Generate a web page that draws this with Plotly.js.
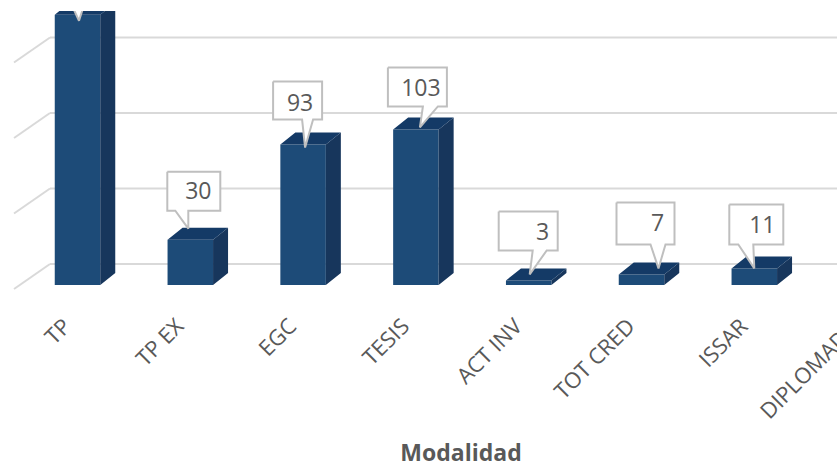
<!DOCTYPE html>
<html>
<head>
<meta charset="utf-8">
<script src="https://cdn.plot.ly/plotly-3.0.1.min.js"></script>
<style>html,body{margin:0;padding:0;width:837px;height:468px;overflow:hidden;background:#fff}</style>
</head>
<body>
<div id="chart" style="width:922px;height:468px"></div>
<script>
// data
const categories = ["TP","TP EX","EGC","TESIS","ACT INV","TOT CRED","ISSAR","DIPLOMADO"];
const values = [179,30,93,103,3,7,11,null];
const gridValues = [0,50,100,150];
const axisTitle = "Modalidad";

// scale constants (pixels per data unit)
const pxPerUnit = 1.51, pxPerCat = 112.8;
const barPx = 45.5, depthX = 15, depthY = 12;
const wallBackY = 21, wallX = 50, wallDX = 36, wallDY = 25;

// callout offsets relative to the top centre of each bar, in pixels
const calloutBox = [[-26,-46,30,-8],[-23,-68,30,-29],[-30,-63,19,-25],[-28,-62,31,-23],[-30,-69,29,-30],[-25,-72,33,-30],[-25,-64,29,-24]];
const calloutTail = [[-5,6],[-15,-2],[-1,10],[7,22],[4,18],[9,24],[-16,-1]];
const calloutTip = [[1.5,6],[-2,-11],[2,3],[4,-2],[1,-6],[17,-6],[0,0]];
const calloutText = [null,[8,-46],[-3,-39],[5,-39],[14,-46],[16,-49],[8,-41]];

const toX = (i,dx)=> i + dx/pxPerCat;
const toY = (v,dy)=> v - dy/pxPerUnit;

const idx = categories.map((_,i)=>i);
const hw = barPx/2;
const sideX=[],sideY=[],topX=[],topY=[];
values.forEach((v,i)=>{
  if(v===null) return;
  sideX.push(toX(i,hw),toX(i,hw+depthX),toX(i,hw+depthX),toX(i,hw),toX(i,hw),null);
  sideY.push(toY(0,0),toY(0,-depthY),toY(v,-depthY),toY(v,0),toY(0,0),null);
  topX.push(toX(i,-hw),toX(i,hw),toX(i,hw+depthX),toX(i,-hw+depthX),toX(i,-hw),null);
  topY.push(toY(v,0),toY(v,0),toY(v,-depthY),toY(v,-depthY),toY(v,0),null);
});

const traces = [
  {type:"bar",x:idx,y:values,width:barPx/pxPerCat,marker:{color:"#1D4B78",line:{width:0}},hoverinfo:"skip"},
  {type:"scatter",mode:"lines",x:sideX,y:sideY,fill:"toself",fillcolor:"#17365C",line:{width:0,color:"#17365C"},hoverinfo:"skip"},
  {type:"scatter",mode:"lines",x:topX,y:topY,fill:"toself",fillcolor:"#143A66",line:{width:0,color:"#143A66"},hoverinfo:"skip"}
];

values.forEach((v,i)=>{
  if(v===null) return;
  const [l,t,r,b]=calloutBox[i], [tl,tr]=calloutTail[i], [px,py]=calloutTip[i];
  const pts=[[l,t],[r,t],[r,b],[tr,b],[px,py],[tl,b],[l,b],[l,t]];
  traces.push({type:"scatter",mode:"lines",x:pts.map(p=>toX(i,p[0])),y:pts.map(p=>toY(v,p[1])),
    fill:"toself",fillcolor:"#FFFFFF",line:{color:"#BFBFBF",width:2},hoverinfo:"skip"});
  if(calloutText[i]) traces.push({type:"scatter",mode:"text",x:[toX(i,calloutText[i][0])],y:[toY(v,calloutText[i][1])],
    text:[String(v)],textposition:"middle center",textfont:{family:"Open Sans",size:23,color:"#595959"},hoverinfo:"skip"});
});

const xLeft = -77.5/pxPerCat, xRight = (922-77.5)/pxPerCat;
const shapes=[];
gridValues.forEach(g=>{
  const back = toY(g,-wallBackY), front = toY(g,-wallBackY+wallDY);
  const wx = toX(0,wallX-77.5), fx = toX(0,wallX-77.5-wallDX);
  const line={color:"#D9D9D9",width:2};
  shapes.push({type:"line",layer:"below",xref:"x",yref:"y",x0:wx,x1:xRight,y0:back,y1:back,line});
  shapes.push({type:"line",layer:"below",xref:"x",yref:"y",x0:fx,x1:wx,y0:front,y1:back,line});
});

const layout = {
  width:922,height:468,showlegend:false,
  margin:{l:0,r:0,t:11,b:168,pad:0},
  paper_bgcolor:"#fff",plot_bgcolor:"rgba(0,0,0,0)",
  shapes,
  xaxis:{range:[xLeft,xRight],tickmode:"array",tickvals:idx,ticktext:categories,tickangle:-45,
    tickfont:{family:"Open Sans",size:22,color:"#595959"},showgrid:false,zeroline:false,showline:false,ticks:"",
    automargin:false,ticklabelstandoff:8,ticklabelshift:-13,
    title:{text:axisTitle,font:{family:"Open Sans",size:23,color:"#595959",weight:700},standoff:21}},
  yaxis:{visible:false,range:[toY(0,15),toY(0,-274)],showgrid:false,zeroline:false,automargin:false}
};
Plotly.newPlot("chart",traces,layout,{displayModeBar:false,staticPlot:true,responsive:false});
</script>
</body>
</html>
